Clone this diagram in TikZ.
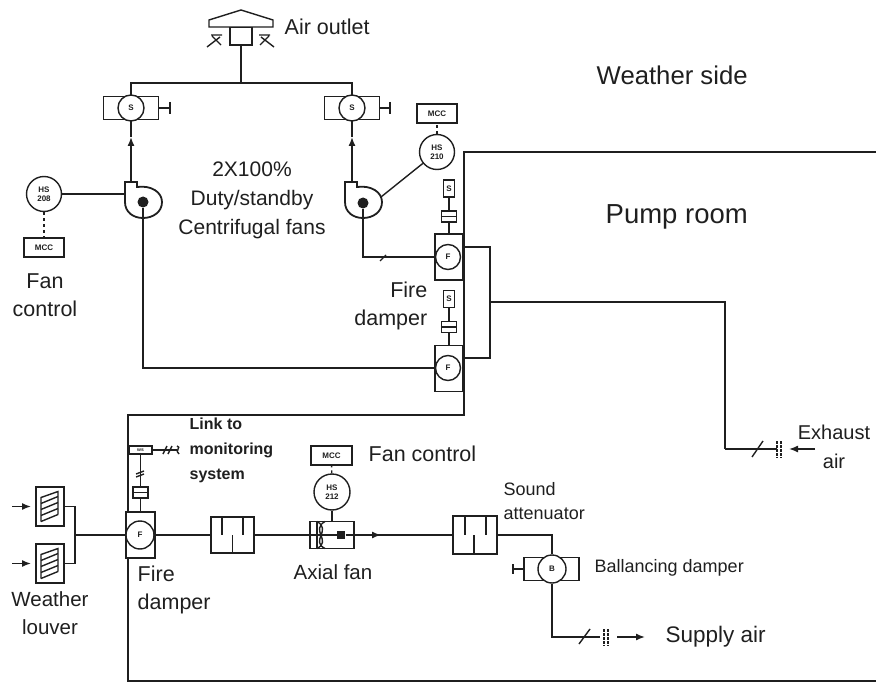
\documentclass[tikz,border=0pt]{standalone}
\usepackage{fontspec}
\setmainfont{Liberation Sans}
\usetikzlibrary{arrows.meta}

\begin{document}
\begin{tikzpicture}[x=1pt, y=-1pt, line width=1.4pt, color=black!88]

    % Define styles
    \tikzstyle{block} = [rectangle, draw, fill=white, inner sep=0pt]
    \tikzstyle{disc} = [circle, draw, fill=white, inner sep=0pt, align=center, font=\fontsize{8}{9}\selectfont\bfseries]
    \tikzstyle{mcc} = [block, minimum width=40pt, minimum height=19pt, font=\fontsize{8}{9}\selectfont\bfseries]
    \tikzstyle{dampbox} = [block, minimum width=55pt, minimum height=23pt]
    \tikzstyle{firebox} = [block, minimum width=28pt, minimum height=46pt]
    \tikzstyle{solbox} = [block, minimum width=11pt, minimum height=17pt, font=\fontsize{8}{9}\selectfont\bfseries]
    \tikzstyle{actbox} = [block, minimum width=15pt, minimum height=11pt]
    \tikzstyle{silencer} = [block, minimum width=43pt, minimum height=36pt]
    \tikzstyle{louver} = [block, minimum width=28pt, minimum height=39pt]
    \tikzstyle{wall} = [draw, line width=2.4pt]
    \tikzstyle{line} = [draw]
    \tikzstyle{flow} = [draw, -{Latex[length=9pt,width=7pt]}]
    \tikzstyle{big} = [inner sep=0pt, font=\fontsize{26.5}{28}\selectfont]
    \tikzstyle{mid} = [inner sep=0pt, align=center, font=\fontsize{21.5}{28}\selectfont]
    \tikzstyle{small} = [inner sep=0pt, align=left, font=\fontsize{18}{24}\selectfont]
    \tikzstyle{bold} = [inner sep=0pt, align=left, font=\fontsize{16}{25}\selectfont\bfseries]

    \useasboundingbox (0,0) rectangle (876,682);

    % Walls
    \coordinate (wall_a) at (876,152);
    \coordinate (wall_b) at (464,152);
    \coordinate (wall_c) at (464,415);
    \coordinate (wall_d) at (128,415);
    \coordinate (wall_e) at (128,681);
    \coordinate (wall_f) at (876,681);
    \coordinate (duct_m) at (490,302);
    \coordinate (duct_c) at (725,302);
    \coordinate (duct_d) at (725,449);
    \path [wall] (wall_a) -- (wall_b) -- (wall_c) -- (wall_d) -- (wall_e) -- (wall_f);
    \path [wall] (duct_m) -- (duct_c) -- (duct_d);

    % Air outlet
    \node [block, minimum width=22pt, minimum height=18pt] (neck) at (241,36) {};
    \draw [fill=white] (209,27) -- (209,20) -- (241,10) -- (273,20) -- (273,27) -- cycle;
    \draw (207,47) -- (220,37) (212,36) -- (221,45) (211,35) -- (222,35);
    \draw (274,47) -- (261,37) (269,36) -- (260,45) (259,35) -- (270,35);

    % Two centrifugal fans
    \coordinate (header) at (241,83);
    \node [dampbox] (damp_l) at (131,108) {};
    \node [dampbox] (damp_r) at (352,108) {};
    \foreach \dmp/\hx in {damp_l/170, damp_r/390} {
        \draw (\dmp.east) -- (\hx,108);
        \draw (\hx,102) -- (\hx,114);
    }
    \node [disc, minimum size=26pt] (sw_l) at (131,108) {S};
    \node [disc, minimum size=26pt] (sw_r) at (352,108) {S};
    \foreach \fx in {143,363} {
        \draw [fill=white, line width=1.8pt] (\fx-18,182) -- (\fx-6,182) -- (\fx-6,187)
            .. controls (\fx+8,185) and (\fx+19,192) .. (\fx+19,202)
            .. controls (\fx+19,212) and (\fx+10,218) .. (\fx,218)
            .. controls (\fx-10,218) and (\fx-18,212) .. (\fx-18,202) -- cycle;
    }
    \node [circle, fill, minimum size=11pt, inner sep=0pt] (hub_l) at (143,202) {};
    \node [circle, fill, minimum size=11pt, inner sep=0pt] (hub_r) at (363,203) {};
    \coordinate (out_l) at (131,182);
    \coordinate (out_r) at (352,182);
    \path [line] (neck.south) -- (header);
    \path [line] (damp_l.north) -- (131,83) -- (352,83) -- (damp_r.north);
    \path [flow] (out_l) -- (131,137);
    \path [line] (131,137) -- (damp_l.south);
    \path [flow] (out_r) -- (352,137);
    \path [line] (352,137) -- (damp_r.south);

    % Fan controls
    \node [disc, minimum size=35pt] (hs_208) at (44,194) {HS\\208};
    \node [mcc] (mcc_208) at (44,247.5) {MCC};
    \path [line, dashed] (hs_208) -- (mcc_208);
    \path [line] (hs_208) -- (125,194);
    \node [disc, minimum size=35pt] (hs_210) at (437,152) {HS\\210};
    \node [mcc] (mcc_210) at (437,113.5) {MCC};
    \path [line, dashed] (hs_210) -- (mcc_210);
    \path [line] (hs_210) -- (381,197);

    % Fire dampers of the upper pair
    \node [firebox] (fire_t) at (449,257) {};
    \node [firebox] (fire_b) at (449,368.5) {};
    \node [disc, minimum size=25pt] (f_t) at (448,257) {F};
    \node [disc, minimum size=25pt] (f_b) at (448,368) {F};
    \node [solbox] (sol_t) at (449,188.5) {S};
    \node [solbox] (sol_b) at (449,299) {S};
    \foreach \act/\ay/\sol/\fire in {act_t/216.5/sol_t/fire_t, act_b/327/sol_b/fire_b} {
        \node [actbox] (\act) at (449,\ay) {};
        \draw (\act.west) -- (\act.east);
        \path [line] (\sol) -- (\act);
        \path [line] (\act) -- (\fire);
    }
    \coordinate (link_t) at (490,247);
    \coordinate (link_b) at (490,358);
    \path [line, line width=1.8pt] (463,247) -- (link_t) -- (link_b) -- (463,358);
    \path [line] (hub_l) -- (143,368) -- (f_b);
    \path [line] (hub_r) -- (363,257) -- (f_t);
    \draw (380,261) -- (386,255);

    % Exhaust
    \coordinate (ex_end) at (777,449);
    \path [line] (duct_d) -- (ex_end);
    \draw (752,457) -- (763,441);
    \draw [dashed, dash pattern=on 3pt off 1pt] (777,441) -- (777,458) (781,441) -- (781,458);
    \coordinate (ex_from) at (815,449);
    \path [flow] (ex_from) -- (789,449);

    % Louvers and inlet
    \node [louver] (louver_t) at (50,506.5) {};
    \node [louver] (louver_b) at (50,563.5) {};
    \foreach \lv/\ly in {louver_t/506.5, louver_b/563.5} {
        \draw (41,\ly+15) -- (41,\ly-9) -- (58,\ly-15) -- (58,\ly+8);
        \foreach \dy in {-3,3,9,15} \draw (41,\ly+\dy) -- (58,\ly+\dy-7);
    }
    \coordinate (in_t) at (12,506.5);
    \coordinate (in_b) at (12,563.5);
    \coordinate (join) at (75,535);
    \path [flow] (in_t) -- (31,506.5);
    \path [flow] (in_b) -- (31,563.5);
    \path [line] (louver_t.east) -- (75,506.5) -- (75,563.5) -- (louver_b.east);

    % Fire damper of the supply line
    \node [firebox, minimum width=29pt] (fire_s) at (140.5,535) {};
    \node [disc, minimum size=28pt] (f_s) at (140,535) {F};
    \node [actbox] (act_s) at (140.5,492.5) {};
    \draw (act_s.west) -- (act_s.east);
    \node [block, minimum width=23pt, minimum height=8pt, font=\fontsize{5}{5}\selectfont\bfseries] (mon) at (140.5,450) {ws};
    \path [line] (mon) -- (act_s);
    \path [line] (act_s) -- (fire_s);
    \draw (136,474) -- (144,471) (136,477) -- (144,474);
    \coordinate (mon_end) at (177,450);
    \path [line] (mon) -- (mon_end);
    \draw (163,454) -- (167,446) (168,454) -- (172,446);
    \draw (177,446) .. controls (182,447) and (174,451) .. (179,454);
    \path [line] (join) -- (f_s);

    % Supply line
    \node [silencer] (att_a) at (232.5,535) {};
    \draw (222,517) -- (222,535) (243,517) -- (243,535) (232.5,553) -- (232.5,535);
    \node [block, minimum width=44pt, minimum height=27pt] (axial) at (332,535) {};
    \draw (317,521.5) -- (317,548.5);
    \draw (317,521.5) .. controls (332,530) and (310,541) .. (325,548.5);
    \draw (325,521.5) .. controls (310,530) and (332,541) .. (317,548.5);
    \draw (310,535) -- (337,535);
    \node [rectangle, fill, minimum size=8pt, inner sep=0pt] (motor) at (341,535) {};
    \node [disc, minimum size=36pt] (hs_212) at (332,492) {HS\\212};
    \node [mcc, minimum width=41pt] (mcc_212) at (331.5,455.5) {MCC};
    \path [line, dashed] (hs_212) -- (mcc_212);
    \path [line] (hs_212) -- (axial);
    \node [silencer, minimum width=44pt, minimum height=38pt] (att_b) at (475,535) {};
    \draw (465,516) -- (465,535) (486,516) -- (486,535) (474,554) -- (474,535);
    \node [dampbox] (damp_s) at (551.5,569) {};
    \node [disc, minimum size=28pt] (bal) at (552,569) {B};
    \draw (damp_s.west) -- (513,569);
    \draw (513,564) -- (513,574);
    \path [line] (f_s) -- (att_a);
    \path [line] (att_a) -- (axial);
    \path [flow] (motor) -- (381,535);
    \path [line] (376,535) -- (att_b);
    \path [line] (att_b) -- (552,535) -- (bal);
    \coordinate (sup_end) at (600,637);
    \path [line] (bal) -- (552,637) -- (sup_end);
    \draw (579,644) -- (590,629);
    \draw [dashed, dash pattern=on 3pt off 1pt] (604,629) -- (604,646) (608,629) -- (608,646);
    \coordinate (sup_from) at (617,637);
    \path [flow] (sup_from) -- (645,637);

    % Labels
    \node [big, anchor=west, font=\fontsize{25.7}{28}\selectfont] (weather) at (596,75) {Weather side};
    \node [big, anchor=west, font=\fontsize{27.5}{28}\selectfont] (pump) at (605,217) {Pump room};
    \node [mid, anchor=west] (outlet) at (284,27) {Air outlet};
    \node [mid, font=\fontsize{21}{29}\selectfont] (duty) at (252,200) {2X100\%\\Duty/standby\\Centrifugal fans};
    \node [mid] (fanctl_l) at (45,295) {Fan\\control};
    \node [mid, align=right, anchor=east] (fire_lab) at (428,305.5) {Fire\\damper};
    \node [mid, align=left, anchor=west] (fire_lab_s) at (137,590) {Fire\\damper};
    \node [mid, font=\fontsize{20.5}{28}\selectfont] (weath_lab) at (50,613) {Weather\\louver};
    \node [mid, anchor=west] (fanctl_s) at (368,454) {Fan control};
    \node [mid, font=\fontsize{20.5}{28}\selectfont] (axial_lab) at (333,572) {Axial fan};
    \node [bold, anchor=west] (link) at (189,450) {Link to\\monitoring\\system};
    \node [small, anchor=west] (sound) at (503,501) {Sound\\attenuator};
    \node [small, anchor=west] (ball) at (594,568) {Ballancing damper};
    \node [mid, font=\fontsize{20}{29}\selectfont] (exh) at (834,447) {Exhaust\\air};
    \node [mid, anchor=west, font=\fontsize{22.5}{28}\selectfont] (supply) at (665,637) {Supply air};

\end{tikzpicture}
\end{document}
